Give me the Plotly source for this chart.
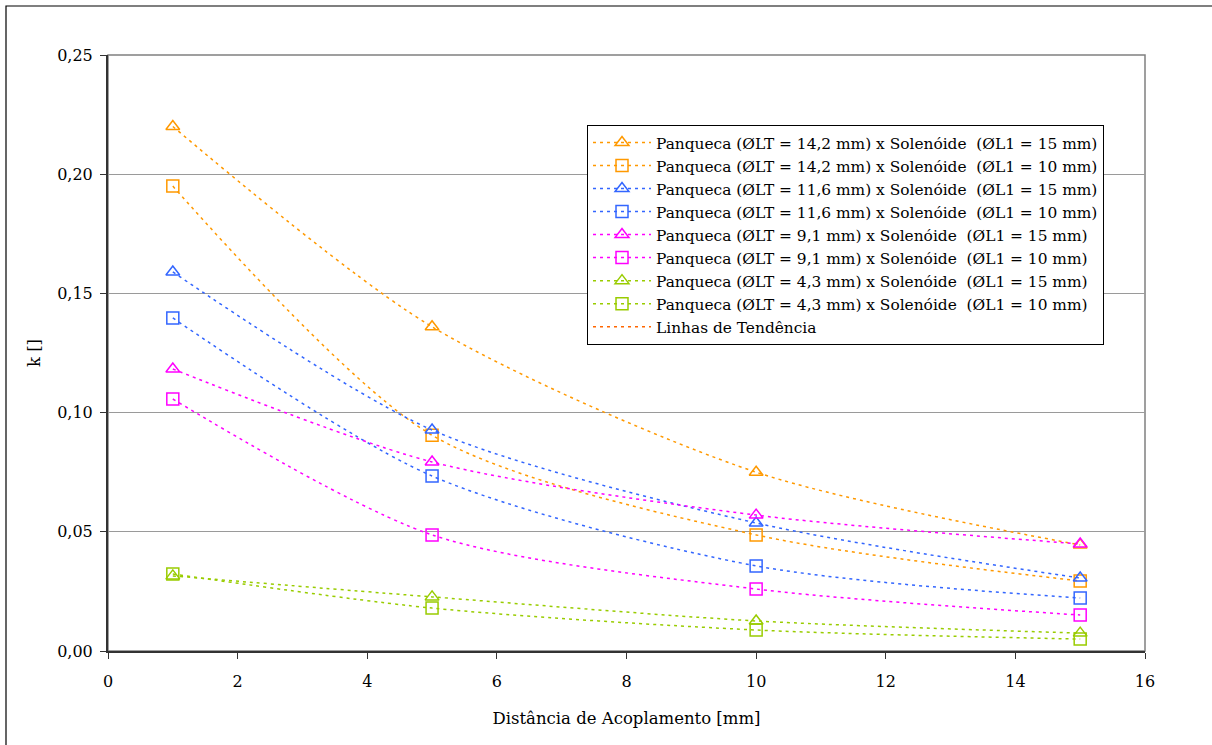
import plotly.graph_objects as go

x_mm = [1, 5, 10, 15]

names = [
    "Panqueca (ØLT = 14,2 mm) x Solenóide\u00a0 (ØL1 = 15 mm)",
    "Panqueca (ØLT = 14,2 mm) x Solenóide\u00a0 (ØL1 = 10 mm)",
    "Panqueca (ØLT = 11,6 mm) x Solenóide\u00a0 (ØL1 = 15 mm)",
    "Panqueca (ØLT = 11,6 mm) x Solenóide\u00a0 (ØL1 = 10 mm)",
    "Panqueca (ØLT = 9,1 mm) x Solenóide\u00a0 (ØL1 = 15 mm)",
    "Panqueca (ØLT = 9,1 mm) x Solenóide\u00a0 (ØL1 = 10 mm)",
    "Panqueca (ØLT = 4,3 mm) x Solenóide\u00a0 (ØL1 = 15 mm)",
    "Panqueca (ØLT = 4,3 mm) x Solenóide\u00a0 (ØL1 = 10 mm)",
]

k_142_15 = [0.220, 0.136, 0.075, 0.0445]
k_142_10 = [0.195, 0.0905, 0.0487, 0.0294]
k_116_15 = [0.159, 0.0927, 0.0537, 0.0306]
k_116_10 = [0.1397, 0.0734, 0.0357, 0.0222]
k_91_15 = [0.1183, 0.0793, 0.0570, 0.0449]
k_91_10 = [0.1057, 0.0487, 0.0260, 0.0151]
k_43_15 = [0.0315, 0.0227, 0.0126, 0.0075]
k_43_10 = [0.0323, 0.0180, 0.0088, 0.0050]

series = [k_142_15, k_142_10, k_116_15, k_116_10, k_91_15, k_91_10, k_43_15, k_43_10]
colors = ["#FF9900", "#FF9900", "#3366FF", "#3366FF", "#FF00FF", "#FF00FF", "#99CC00", "#99CC00"]
symbols = ["triangle-up-open", "square-open"] * 4

FONT = "DejaVu Serif"
DASH = "3px,4px"

fig = go.Figure()
for name, ys, c, s in zip(names, series, colors, symbols):
    fig.add_trace(go.Scatter(
        x=x_mm, y=ys, name=name, mode="lines+markers",
        line=dict(color=c, width=1.5, dash=DASH, shape="spline", smoothing=0.8),
        marker=dict(symbol=s, size=12, color=c, line=dict(color=c, width=1.5)),
    ))

fig.add_trace(go.Scatter(
    x=[None], y=[None], name="Linhas de Tendência", mode="lines",
    line=dict(color="#FF6600", width=1.5, dash=DASH),
))

L, R, T, B = 108, 67, 55, 94
W, H = 1212, 745
pw, ph = W - L - R, H - T - B

fig.add_shape(type="rect", xref="paper", yref="paper",
              x0=(6 - L) / pw, x1=(1212 - L) / pw + 0.01,
              y0=(H - B - 745) / ph - 0.01, y1=(H - B - 6) / ph,
              line=dict(color="black", width=1.2), fillcolor="rgba(0,0,0,0)", layer="below")
fig.add_shape(type="rect", xref="paper", yref="paper", x0=0, x1=1, y0=0, y1=1,
              line=dict(color="#808080", width=1.5), fillcolor="rgba(0,0,0,0)", layer="below")

fig.update_layout(
    width=W, height=H,
    margin=dict(l=L, r=R, t=T, b=B),
    paper_bgcolor="white", plot_bgcolor="white",
    separators=",.",
    font=dict(family=FONT, size=16, color="black"),
    showlegend=True,
    legend=dict(x=(587 - L) / pw, y=(H - B - 125) / ph, xanchor="left", yanchor="top",
                bgcolor="white", bordercolor="black", borderwidth=1,
                font=dict(family=FONT, size=15.4), tracegroupgap=0, itemwidth=58),
    xaxis=dict(range=[0, 16], dtick=2, tickformat="d", showgrid=False, zeroline=False,
               showline=True, linecolor="#333333", linewidth=2,
               ticks="outside", ticklen=6, tickcolor="#333333", ticklabelstandoff=9,
               tickfont=dict(family=FONT, size=16),
               title=dict(text="Distância de Acoplamento [mm]", font=dict(family=FONT, size=16.5), standoff=22)),
    yaxis=dict(range=[0, 0.25], dtick=0.05, tickformat=".2f", showgrid=True, gridcolor="#9a9a9a",
               gridwidth=1, zeroline=False, showline=True, linecolor="#333333", linewidth=2,
               ticks="outside", ticklen=6, tickcolor="#333333", ticklabelstandoff=4,
               tickfont=dict(family=FONT, size=16),
               title=dict(text="k []", font=dict(family=FONT, size=16.5), standoff=12)),
)

fig.write_html("out.html")
